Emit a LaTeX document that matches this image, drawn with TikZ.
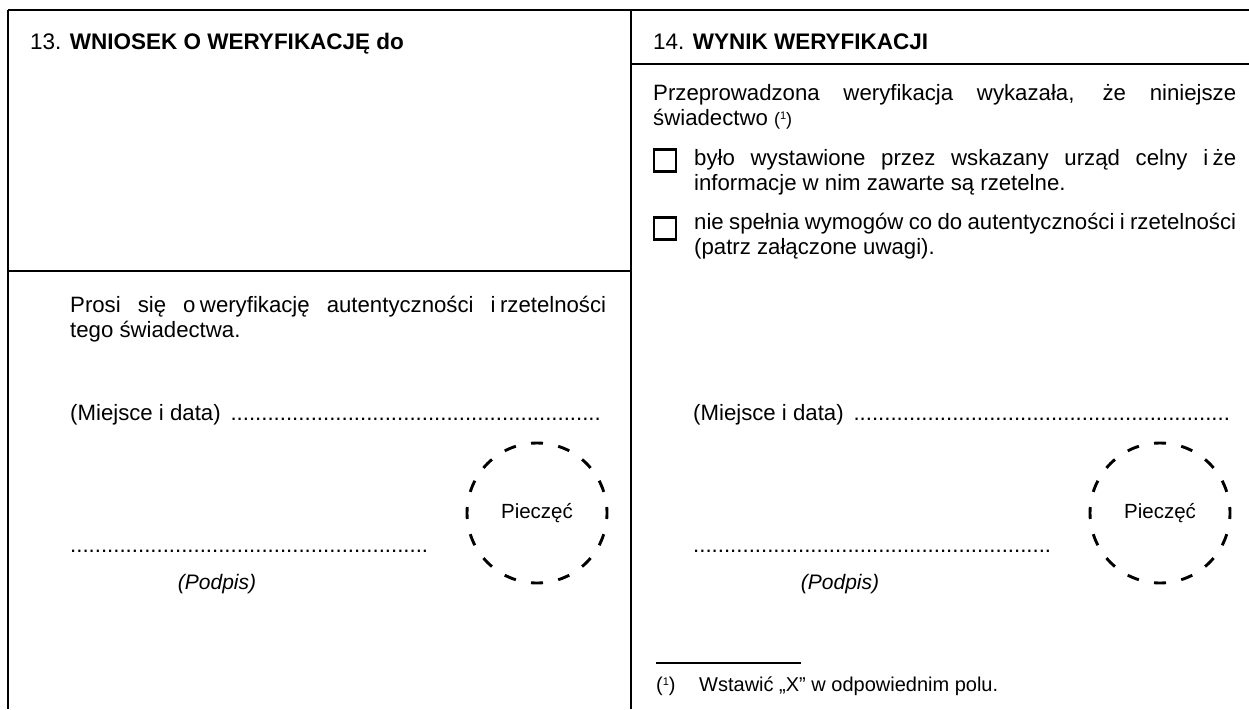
\documentclass[tikz,border=0pt]{standalone}
\usepackage{fontspec}
\setmainfont{Liberation Sans}
\newcommand\tsp{\nobreak\hspace{0.2em}}
\newcommand\fnmark{{\fontsize{18}{18}\selectfont(\raisebox{6pt}{\fontsize{11}{11}\selectfont 1})}}
\newcommand\fnmarkb{(\raisebox{6pt}{\fontsize{11}{11}\selectfont 1})}
\begin{document}
\begin{tikzpicture}[x=1pt,y=-1pt,
  frame/.style={line width=2.6pt},
  txt/.style={inner sep=0pt, anchor=base west, font=\fontsize{22.2}{25}\selectfont},
  hdr/.style={inner sep=0pt, anchor=base west, font=\fontsize{22.5}{25}\selectfont},
  ctxt/.style={inner sep=0pt, anchor=base, font=\fontsize{21}{25}\selectfont},
  chk/.style={draw, line width=2.5pt, minimum size=22pt, inner sep=0pt},
  stamp/.style={circle, draw, line width=2.9pt, minimum size=140pt, inner sep=0pt,
    dash pattern=on 12pt off 15.49pt, dash phase=6pt, font=\fontsize{20.5}{24}\selectfont},
  fn/.style={inner sep=0pt, anchor=base west, font=\fontsize{20}{24}\selectfont}]
\useasboundingbox (0,0) rectangle (1249,709);
\fill[white] (0,0) rectangle (1249,709);
% frame
\coordinate (tl) at (8,10);
\coordinate (tr) at (1249,10);
\coordinate (bl) at (8,709);
\coordinate (tm) at (631,10);
\coordinate (bm) at (631,709);
\coordinate (dl) at (8,271);
\coordinate (dm) at (631,271);
\coordinate (hm) at (631,64);
\coordinate (hr) at (1249,64);
\draw[frame] (tl) -- (tr);
\draw[frame] (tl) -- (bl);
\draw[frame] (tm) -- (bm);
\draw[frame] (dl) -- (dm);
\draw[frame] (hm) -- (hr);
% headers
\node[hdr] (h13) at (30,49) {13. \textbf{WNIOSEK O WERYFIKACJĘ do}};
\node[hdr] (h14) at (653,49) {14. \textbf{WYNIK WERYFIKACJI}};
% right column text
\node[txt] (res) at (653,100) {\parbox[t]{583pt}{Przeprowadzona weryfikacja wykazała, że niniejsze\linebreak świadectwo \fnmark}};
\node[chk] (c1) at (665,160.5) {};
\node[txt] (o1) at (694,165) {\parbox[t]{542pt}{było wystawione przez wskazany urząd celny i\tsp że\linebreak informacje w nim zawarte są rzetelne.}};
\node[chk] (c2) at (665,228.5) {};
\node[txt] (o2) at (694,229) {\parbox[t]{542pt}{nie spełnia wymogów co do autentyczności i rzetelności\linebreak (patrz załączone uwagi).}};
% left column text
\node[txt] (req) at (70,312) {\parbox[t]{536pt}{Prosi się o\tsp weryfikację autentyczności i\tsp rzetelności\linebreak tego świadectwa.}};
\node[txt] (md1) at (70,420) {\hbox to 536pt{(Miejsce i data) \leaders\hbox{.}\hfill}};
\node[txt] (md2) at (693,420) {\hbox to 537pt{(Miejsce i data) \leaders\hbox{.}\hfill}};
\node[txt] (sg1) at (70,552) {\hbox to 363pt{\leaders\hbox{.}\hfill}};
\node[txt] (sg2) at (693,552) {\hbox to 363pt{\leaders\hbox{.}\hfill}};
\node[ctxt] (pd1) at (217,589) {\itshape (Podpis)};
\node[ctxt] (pd2) at (840,589) {\itshape (Podpis)};
\node[stamp] (st1) at (537,513) {Pieczęć};
\node[stamp] (st2) at (1160,513) {Pieczęć};
% footnote
\coordinate (fa) at (656,663);
\coordinate (fb) at (801,663);
\draw[line width=2.2pt] (fa) -- (fb);
\node[fn] (fm) at (656,691) {\fnmarkb};
\node[fn] (ft) at (699,691) {Wstawić „X” w odpowiednim polu.};
\end{tikzpicture}
\end{document}
